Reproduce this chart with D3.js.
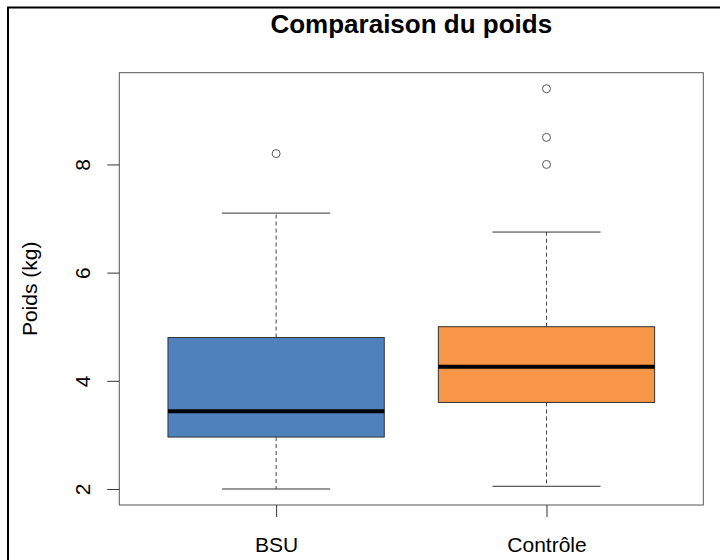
<!DOCTYPE html>
<html>
<head>
<meta charset="utf-8">
<script src="https://cdn.jsdelivr.net/npm/d3@7"></script>
<style>
  body { margin: 0; background: #fff; }
  svg text { font-family: "Liberation Sans", Arial, sans-serif; fill: #000; }
</style>
</head>
<body>
<div id="graph"></div>
<script>
// values
var groups   = ['BSU', 'Contrôle']
var fills    = ['#4f81bd', '#f79646']
var whiskLo  = [2.0, 2.05]
var q1       = [2.96, 3.6]
var medians  = [3.435, 4.26]
var q3       = [4.8, 5.0]
var whiskHi  = [7.1, 6.75]
var outliers = [[8.2], [9.4, 8.5, 8.0]]
var yTicks   = [2, 4, 6, 8]

var width = 720, height = 560
var plot = {left: 119.3, right: 703.3, top: 72.7, bottom: 505}

var svg = d3.select('#graph').append('svg')
  .attr('width', width).attr('height', height)

// outer frame, runs off the right / bottom edge
svg.append('rect')
  .attr('x', 8).attr('y', 7.5)
  .attr('width', width).attr('height', height)
  .attr('fill', 'none').attr('stroke', '#000').attr('stroke-width', 2)

// R style 4% padding on both axes
var allVals = d3.merge([whiskLo, whiskHi, d3.merge(outliers)])
var lo = d3.min(allVals), hi = d3.max(allVals), pad = (hi - lo) * 0.04

var y = d3.scaleLinear()
  .domain([lo - pad, hi + pad])
  .range([plot.bottom, plot.top])

var x = d3.scaleLinear()
  .domain([0.5 - 0.08, groups.length + 0.5 + 0.08])
  .range([plot.left, plot.right])

var boxW = 0.8, capW = 0.4

var rows = groups.map((g, i) => ({
  name: g, pos: i + 1, fill: fills[i],
  lo: whiskLo[i], q1: q1[i], med: medians[i], q3: q3[i], hi: whiskHi[i],
  out: outliers[i]
}))

var boxes = svg.append('g').selectAll('g').data(rows).join('g')

// dashed whiskers
boxes.append('line')
  .attr('x1', d => x(d.pos)).attr('x2', d => x(d.pos))
  .attr('y1', d => y(d.q3)).attr('y2', d => y(d.hi))
  .attr('stroke', '#444').attr('stroke-dasharray', '4,3')
boxes.append('line')
  .attr('x1', d => x(d.pos)).attr('x2', d => x(d.pos))
  .attr('y1', d => y(d.q1)).attr('y2', d => y(d.lo))
  .attr('stroke', '#444').attr('stroke-dasharray', '4,3')

// caps
;['lo', 'hi'].forEach(k => {
  boxes.append('line')
    .attr('x1', d => x(d.pos - capW / 2)).attr('x2', d => x(d.pos + capW / 2))
    .attr('y1', d => y(d[k])).attr('y2', d => y(d[k]))
    .attr('stroke', '#333')
})

boxes.append('rect')
  .attr('x', d => x(d.pos - boxW / 2))
  .attr('width', d => x(d.pos + boxW / 2) - x(d.pos - boxW / 2))
  .attr('y', d => y(d.q3))
  .attr('height', d => y(d.q1) - y(d.q3))
  .attr('fill', d => d.fill).attr('stroke', '#333')

boxes.append('line')
  .attr('x1', d => x(d.pos - boxW / 2)).attr('x2', d => x(d.pos + boxW / 2))
  .attr('y1', d => y(d.med)).attr('y2', d => y(d.med))
  .attr('stroke', '#000').attr('stroke-width', 4)

boxes.selectAll('circle').data(d => d.out.map(v => ({pos: d.pos, v})))
  .join('circle')
  .attr('cx', d => x(d.pos)).attr('cy', d => y(d.v)).attr('r', 4)
  .attr('fill', 'none').attr('stroke', '#555')

// plot frame
svg.append('rect')
  .attr('x', plot.left).attr('y', plot.top)
  .attr('width', plot.right - plot.left).attr('height', plot.bottom - plot.top)
  .attr('fill', 'none').attr('stroke', '#555')

// y axis
var yAxis = svg.append('g')
  .attr('transform', `translate(${plot.left},0)`)
  .call(d3.axisLeft(y).tickValues(yTicks).tickSize(12).tickSizeOuter(0))
yAxis.select('.domain').remove()
yAxis.selectAll('line').attr('stroke', '#333')
yAxis.selectAll('text')
  .attr('transform', 'rotate(-90)')
  .attr('x', 0).attr('y', -29).attr('dy', 0)
  .attr('text-anchor', 'middle')
  .style('font-size', '21px')

// x axis
var xAxis = svg.append('g')
  .attr('transform', `translate(0,${plot.bottom})`)
  .call(d3.axisBottom(x).tickValues(rows.map(d => d.pos))
    .tickFormat(d => groups[d - 1]).tickSize(12).tickSizeOuter(0))
xAxis.select('.domain').remove()
xAxis.selectAll('line').attr('stroke', '#333')
xAxis.selectAll('text')
  .attr('y', 46.7).attr('dy', 0)
  .style('font-size', '21px')

// labels
svg.append('text')
  .attr('transform', `translate(37.3,${(plot.top + plot.bottom) / 2}) rotate(-90)`)
  .attr('text-anchor', 'middle')
  .style('font-size', '21px')
  .text('Poids (kg)')

svg.append('text')
  .attr('x', (plot.left + plot.right) / 2).attr('y', 33)
  .attr('text-anchor', 'middle')
  .style('font-size', '26px').style('font-weight', 'bold')
  .text('Comparaison du poids')
</script>
</body>
</html>
